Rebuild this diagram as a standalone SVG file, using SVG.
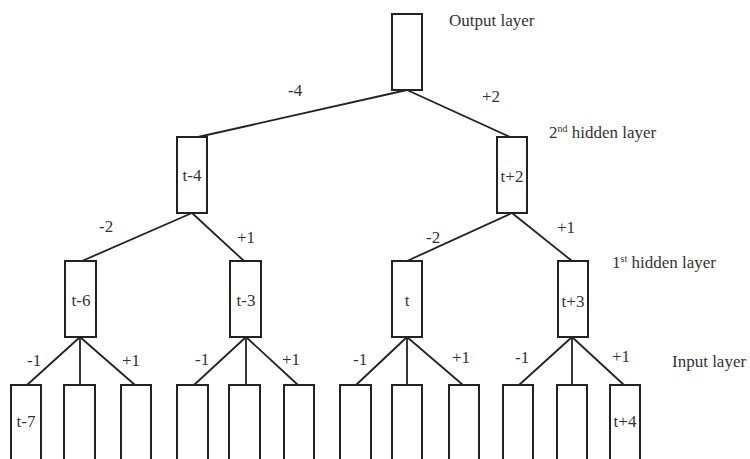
<svg xmlns="http://www.w3.org/2000/svg" width="750" height="459" viewBox="0 0 750 459">
  <style>
    .box { fill: #ffffff; stroke: #222222; stroke-width: 2; }
    .edge { stroke: #222222; stroke-width: 1.8; fill: none; }
    text { font-family: "Liberation Serif", "Times New Roman", Times, Tinos, "DejaVu Serif", "Noto Serif", FreeSerif, serif; font-size: 17px; fill: #333333; }
    .node-label { text-anchor: middle; }
    .sup { font-size: 10px; }
  </style>
  <rect width="750" height="459" fill="#ffffff"/>

  <!-- connectors -->
  <g id="connectors">
    <line class="edge" x1="407" y1="90" x2="198" y2="137"/>
    <line class="edge" x1="407" y1="90" x2="510" y2="137"/>
    <line class="edge" x1="192" y1="213" x2="82" y2="261"/>
    <line class="edge" x1="192" y1="213" x2="244" y2="261"/>
    <line class="edge" x1="512" y1="213" x2="407" y2="261"/>
    <line class="edge" x1="512" y1="213" x2="572" y2="261"/>
    <line class="edge" x1="80" y1="337" x2="27" y2="385"/>
    <line class="edge" x1="80" y1="337" x2="80" y2="385"/>
    <line class="edge" x1="80" y1="337" x2="135" y2="385"/>
    <line class="edge" x1="246" y1="337" x2="194" y2="385"/>
    <line class="edge" x1="246" y1="337" x2="246" y2="385"/>
    <line class="edge" x1="246" y1="337" x2="298" y2="385"/>
    <line class="edge" x1="407" y1="337" x2="356" y2="385"/>
    <line class="edge" x1="407" y1="337" x2="407" y2="385"/>
    <line class="edge" x1="407" y1="337" x2="463" y2="385"/>
    <line class="edge" x1="572" y1="337" x2="519" y2="385"/>
    <line class="edge" x1="572" y1="337" x2="572" y2="385"/>
    <line class="edge" x1="572" y1="337" x2="624" y2="385"/>
    <!-- weights -->
    <text x="288" y="96">-4</text>
    <text x="482" y="102">+2</text>
    <text x="99" y="232">-2</text>
    <text x="237" y="243">+1</text>
    <text x="426" y="243">-2</text>
    <text x="557" y="233">+1</text>
    <text x="27" y="366">-1</text>
    <text x="122" y="366">+1</text>
    <text x="195" y="365">-1</text>
    <text x="282" y="365">+1</text>
    <text x="353" y="365">-1</text>
    <text x="452" y="363">+1</text>
    <text x="515" y="363">-1</text>
    <text x="612" y="362">+1</text>
  </g>

  <!-- output layer -->
  <g id="output"><rect class="box" x="392" y="14" width="30" height="76"/></g>

  <!-- 2nd hidden layer -->
  <g id="h2-t-4"><rect class="box" x="177" y="137" width="30" height="76"/><text class="node-label" x="192" y="181">t-4</text></g>
  <g id="h2-t+2"><rect class="box" x="497" y="137" width="30" height="76"/><text class="node-label" x="512" y="182">t+2</text></g>

  <!-- 1st hidden layer -->
  <g id="h1-t-6"><rect class="box" x="65" y="261" width="31" height="76"/><text class="node-label" x="81" y="306">t-6</text></g>
  <g id="h1-t-3"><rect class="box" x="230" y="261" width="31" height="76"/><text class="node-label" x="246" y="306">t-3</text></g>
  <g id="h1-t"><rect class="box" x="392" y="261" width="30" height="76"/><text class="node-label" x="407" y="306">t</text></g>
  <g id="h1-t+3"><rect class="box" x="558" y="261" width="30" height="76"/><text class="node-label" x="573" y="307">t+3</text></g>

  <!-- input layer -->
  <g id="in-1"><rect class="box" x="11" y="385" width="30" height="90"/><text class="node-label" x="26" y="427">t-7</text></g>
  <g id="in-2"><rect class="box" x="64" y="385" width="31" height="90"/></g>
  <g id="in-3"><rect class="box" x="121" y="385" width="30" height="90"/></g>
  <g id="in-4"><rect class="box" x="177" y="385" width="31" height="90"/></g>
  <g id="in-5"><rect class="box" x="229" y="385" width="31" height="90"/></g>
  <g id="in-6"><rect class="box" x="284" y="385" width="30" height="90"/></g>
  <g id="in-7"><rect class="box" x="340" y="385" width="31" height="90"/></g>
  <g id="in-8"><rect class="box" x="392" y="385" width="30" height="90"/></g>
  <g id="in-9"><rect class="box" x="449" y="385" width="30" height="90"/></g>
  <g id="in-10"><rect class="box" x="503" y="385" width="30" height="90"/></g>
  <g id="in-11"><rect class="box" x="557" y="385" width="30" height="90"/></g>
  <g id="in-12"><rect class="box" x="610" y="385" width="30" height="90"/><text class="node-label" x="625" y="427">t+4</text></g>

  <!-- layer captions -->
  <g id="captions">
    <text x="449" y="26">Output layer</text>
    <text x="549" y="138">2<tspan class="sup" dy="-6">nd</tspan><tspan dy="6"> hidden layer</tspan></text>
    <text x="612" y="268">1<tspan class="sup" dy="-6">st</tspan><tspan dy="6"> hidden layer</tspan></text>
    <text x="672" y="367">Input layer</text>
  </g>
</svg>
